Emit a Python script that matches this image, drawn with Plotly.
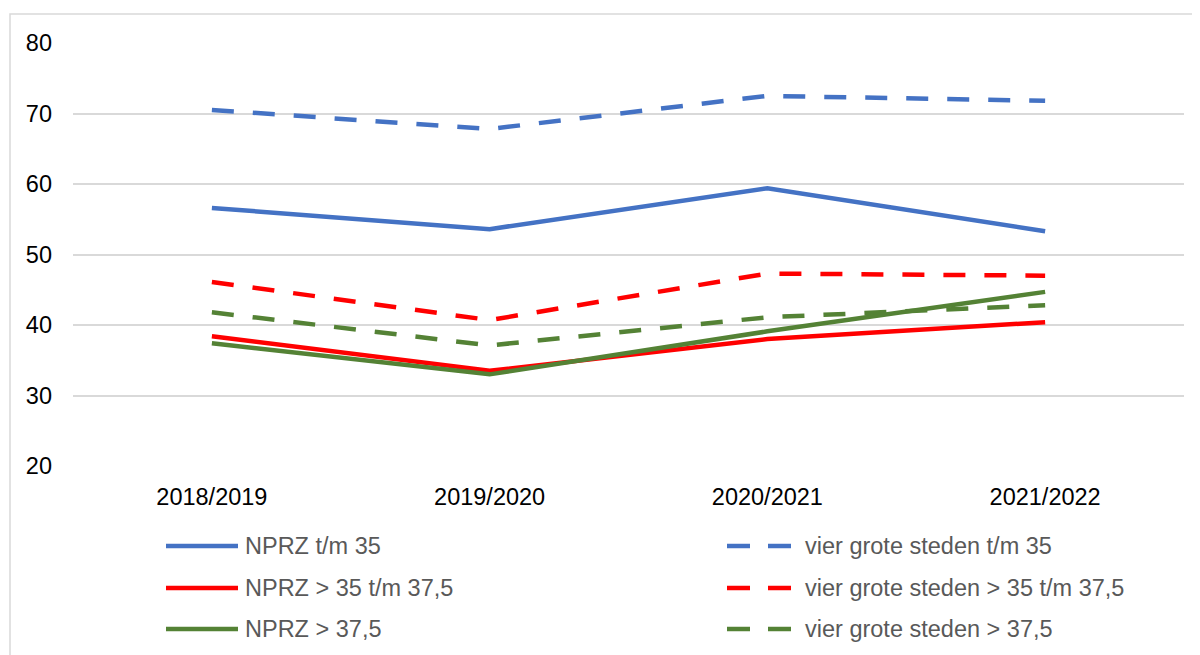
import plotly.graph_objects as go

categories = ["2018/2019", "2019/2020", "2020/2021", "2021/2022"]

nprz_tm35 = [56.6, 53.6, 59.4, 53.3]
nprz_35_375 = [38.4, 33.5, 38.0, 40.4]
nprz_gt375 = [37.4, 33.0, 39.1, 44.7]
g4_tm35 = [70.5, 67.8, 72.5, 71.8]
g4_35_375 = [46.1, 40.7, 47.3, 47.0]
g4_gt375 = [41.8, 37.1, 41.1, 42.8]

series_names = [
    "NPRZ t/m 35", "vier grote steden t/m 35",
    "NPRZ > 35 t/m 37,5", "vier grote steden > 35 t/m 37,5",
    "NPRZ > 37,5", "vier grote steden > 37,5",
]
series_values = [nprz_tm35, g4_tm35, nprz_35_375, g4_35_375, nprz_gt375, g4_gt375]
y_ticks = [20, 30, 40, 50, 60, 70, 80]

colors = ["#4472C4", "#4472C4", "#FF0000", "#FF0000", "#548235", "#548235"]
dashes = ["solid", "22px,19px", "solid", "22px,19px", "solid", "22px,19px"]

FONT = "Liberation Sans, Arial, sans-serif"
FS = 23.5
OFF = 8  # default page body margin
W, H = 1200 - OFF, 655 - OFF
L, R, T, B = 65, 16, 35, 189
pw, ph = W - L - R, H - T - B

def px2x(px):
    return (px - OFF - L) / pw

def px2y(py):
    return (H - B - (py - OFF)) / ph

fig = go.Figure()
for name, vals, c, d in zip(series_names, series_values, colors, dashes):
    fig.add_trace(go.Scatter(
        x=categories, y=vals, name=name, mode="lines",
        line=dict(color=c, width=4.5, dash=d), showlegend=False,
    ))

shapes = []
annotations = []
# outer chart border
shapes.append(dict(type="rect", xref="paper", yref="paper",
                   x0=px2x(10), x1=px2x(1230), y0=px2y(690), y1=px2y(14),
                   line=dict(color="#D9D9D9", width=1.5), fillcolor="rgba(0,0,0,0)", layer="below"))

# manual legend, two columns x three rows
row_y = [546, 588, 629]
for i, (name, c, d) in enumerate(zip(series_names, colors, dashes)):
    row = i // 2
    col = i % 2
    py = row_y[row]
    if col == 0:
        segs, tx = [(166, 238)], 243
    else:
        segs, tx = [(727, 750), (768, 791)], 803
    for x0, x1 in segs:
        shapes.append(dict(type="line", xref="paper", yref="paper",
                           x0=px2x(x0), x1=px2x(x1), y0=px2y(py), y1=px2y(py),
                           line=dict(color=c, width=4.5)))
    annotations.append(dict(xref="paper", yref="paper", x=px2x(tx), y=px2y(py),
                            text=name, showarrow=False, xanchor="left", yanchor="middle",
                            font=dict(family=FONT, size=FS, color="#595959")))

fig.update_layout(
    width=W, height=H,
    margin=dict(l=L, r=R, t=T, b=B),
    paper_bgcolor="white", plot_bgcolor="white",
    font=dict(family=FONT, size=FS, color="#000000"),
    shapes=shapes, annotations=annotations,
    xaxis=dict(showgrid=False, showline=False, zeroline=False, ticks="",
               tickfont=dict(size=FS, color="#000000"), ticklabelstandoff=14,
               range=[-0.5, 3.5]),
    yaxis=dict(range=[20, 80], tickvals=y_ticks, showgrid=True, gridcolor="#D9D9D9",
               gridwidth=1.5, zeroline=False, showline=False, ticks="",
               tickfont=dict(size=FS, color="#000000"), ticklabelstandoff=20),
)

fig.write_html("out.html")
